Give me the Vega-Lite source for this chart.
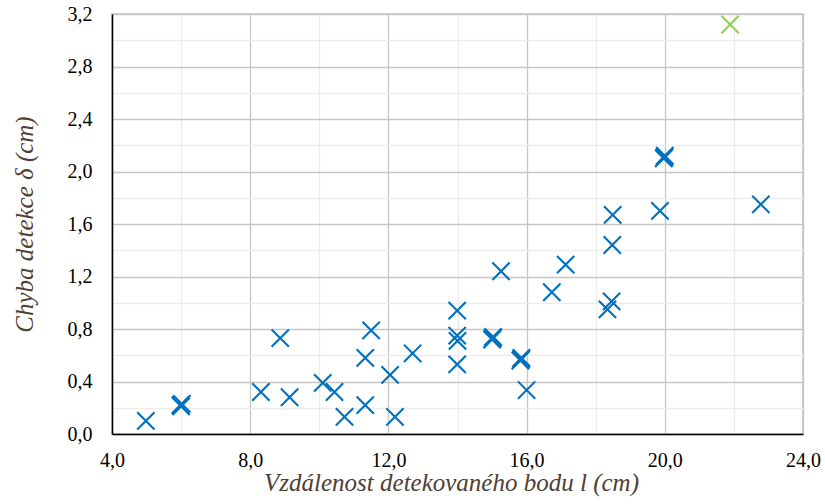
{
  "width": 691,
  "height": 420,
  "autosize": {"type": "none"},
  "padding": {"left": 112, "top": 14, "right": 22, "bottom": 70},
  "view": {"stroke": "#c0c0c0", "strokeWidth": 1.5},
  "config": {
    "style": {
      "guide-label": {"font": "Liberation Serif", "fontSize": 20, "fill": "#000000"}
    }
  },
  "data": {
    "values": [
      {"l": 4.98, "d": 0.10, "s": "main"},
      {"l": 5.98, "d": 0.22, "s": "main"},
      {"l": 6.00, "d": 0.21, "s": "main"},
      {"l": 6.02, "d": 0.23, "s": "main"},
      {"l": 8.31, "d": 0.32, "s": "main"},
      {"l": 8.87, "d": 0.73, "s": "main"},
      {"l": 9.14, "d": 0.28, "s": "main"},
      {"l": 10.10, "d": 0.39, "s": "main"},
      {"l": 10.44, "d": 0.32, "s": "main"},
      {"l": 10.73, "d": 0.13, "s": "main"},
      {"l": 11.33, "d": 0.22, "s": "main"},
      {"l": 11.33, "d": 0.58, "s": "main"},
      {"l": 11.50, "d": 0.79, "s": "main"},
      {"l": 12.05, "d": 0.45, "s": "main"},
      {"l": 12.19, "d": 0.13, "s": "main"},
      {"l": 12.70, "d": 0.615, "s": "main"},
      {"l": 13.99, "d": 0.94, "s": "main"},
      {"l": 13.99, "d": 0.75, "s": "main"},
      {"l": 14.00, "d": 0.71, "s": "main"},
      {"l": 13.99, "d": 0.53, "s": "main"},
      {"l": 15.00, "d": 0.72, "s": "main"},
      {"l": 15.03, "d": 0.74, "s": "main"},
      {"l": 15.02, "d": 0.73, "s": "main"},
      {"l": 15.26, "d": 1.24, "s": "main"},
      {"l": 15.82, "d": 0.56, "s": "main"},
      {"l": 15.85, "d": 0.58, "s": "main"},
      {"l": 15.84, "d": 0.57, "s": "main"},
      {"l": 16.00, "d": 0.335, "s": "main"},
      {"l": 16.73, "d": 1.08, "s": "main"},
      {"l": 17.13, "d": 1.29, "s": "main"},
      {"l": 18.34, "d": 0.95, "s": "main"},
      {"l": 18.46, "d": 1.01, "s": "main"},
      {"l": 18.48, "d": 1.44, "s": "main"},
      {"l": 18.49, "d": 1.67, "s": "main"},
      {"l": 19.86, "d": 1.70, "s": "main"},
      {"l": 19.97, "d": 2.10, "s": "main"},
      {"l": 20.00, "d": 2.12, "s": "main"},
      {"l": 19.99, "d": 2.11, "s": "main"},
      {"l": 22.78, "d": 1.75, "s": "main"},
      {"l": 21.89, "d": 3.12, "s": "outlier"}
    ]
  },
  "mark": {
    "type": "point",
    "shape": "M-1,-1L1,1M1,-1L-1,1",
    "filled": false,
    "size": 300,
    "strokeWidth": 2.1,
    "opacity": 1
  },
  "encoding": {
    "x": {
      "field": "l",
      "type": "quantitative",
      "scale": {"domain": [4, 24], "nice": false, "zero": false},
      "axis": {
        "values": [4, 6, 8, 10, 12, 14, 16, 18, 20, 22, 24],
        "labelExpr": "datum.value % 4 === 0 ? replace(format(datum.value, '.1f'), '.', ',') : ''",
        "labelFont": "Liberation Serif",
        "labelFontSize": 20,
        "labelColor": "#000000",
        "gridColor": {"condition": {"test": "datum.value % 4 === 0", "value": "#c6c6c6"}, "value": "#ececec"},
        "gridWidth": 1.3,
        "tickSize": 0,
        "tickColor": "transparent",
        "domainColor": "#000000",
        "domainWidth": 1.5,
        "labelPadding": 16,
        "labelFlush": false,
        "title": "Vzdálenost detekovaného bodu l (cm)",
        "titleFont": "Liberation Serif",
        "titleFontStyle": "italic",
        "titleFontWeight": "normal",
        "titleFontSize": 25,
        "titleColor": "#4f4035",
        "titlePadding": 0,
        "titleX": 339
      }
    },
    "y": {
      "field": "d",
      "type": "quantitative",
      "scale": {"domain": [0, 3.2], "nice": false},
      "axis": {
        "values": [0, 0.2, 0.4, 0.6, 0.8, 1.0, 1.2, 1.4, 1.6, 1.8, 2.0, 2.2, 2.4, 2.6, 2.8, 3.0, 3.2],
        "labelExpr": "round(datum.value * 10) % 4 === 0 ? replace(format(datum.value, '.1f'), '.', ',') : ''",
        "labelFont": "Liberation Serif",
        "labelFontSize": 20,
        "labelColor": "#000000",
        "gridColor": {"condition": {"test": "round(datum.value * 10) % 4 === 0", "value": "#c6c6c6"}, "value": "#ececec"},
        "gridWidth": 1.3,
        "tickSize": 0,
        "tickColor": "transparent",
        "domainColor": "#000000",
        "domainWidth": 1.5,
        "labelPadding": 20,
        "labelFlush": false,
        "title": "Chyba detekce  δ  (cm)",
        "titleFont": "Liberation Serif",
        "titleFontStyle": "italic",
        "titleFontWeight": "normal",
        "titleFontSize": 25,
        "titleColor": "#4f4035",
        "titlePadding": 30
      }
    },
    "color": {
      "field": "s",
      "type": "nominal",
      "scale": {"domain": ["main", "outlier"], "range": ["#0070c0", "#92d050"]},
      "legend": null
    }
  }
}
